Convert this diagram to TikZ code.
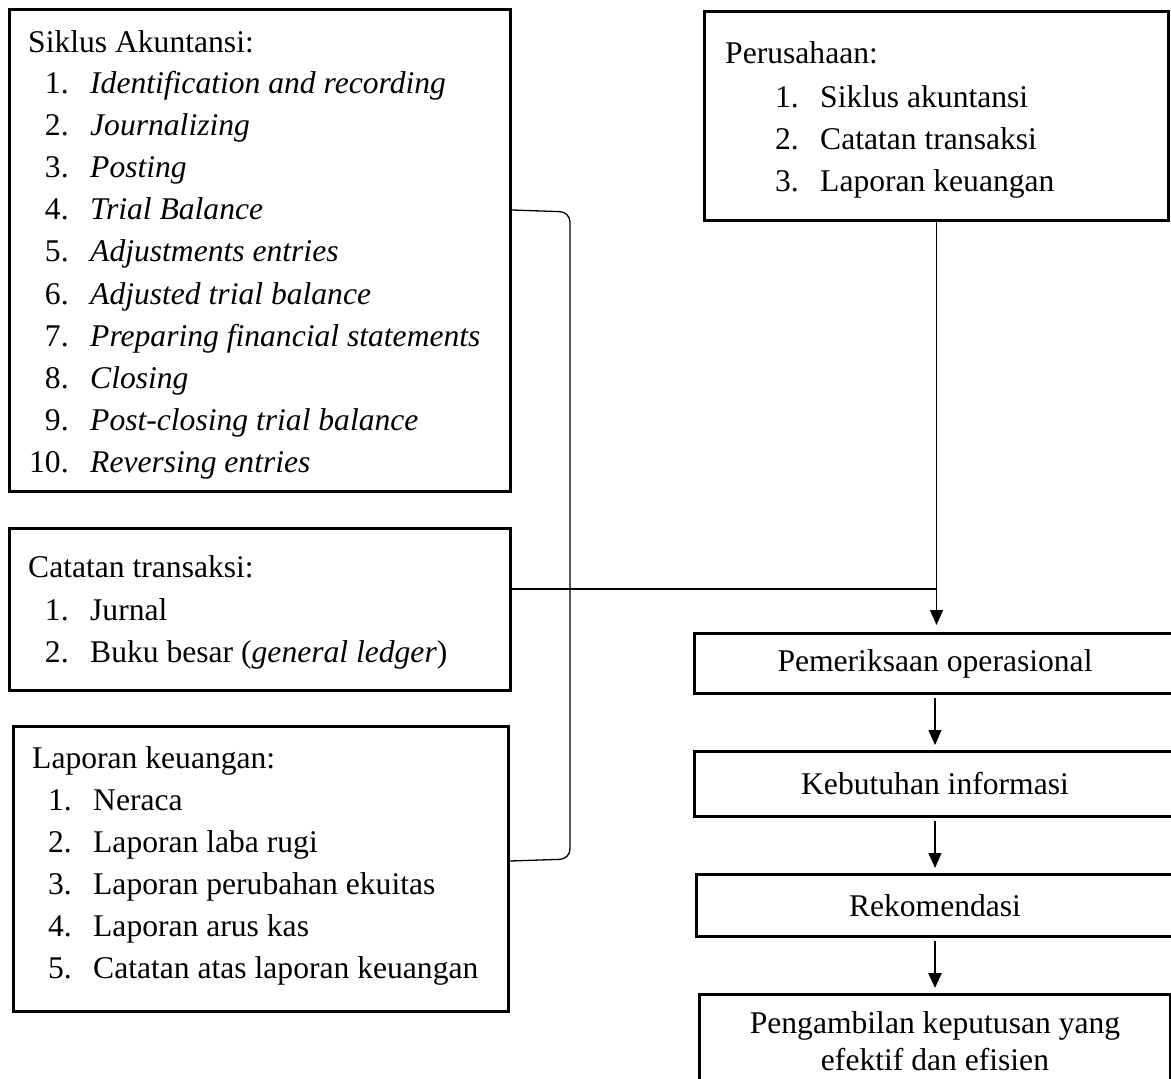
\documentclass[tikz,border=0pt]{standalone}
\usepackage{fontspec}
\setmainfont{Liberation Serif}
\usetikzlibrary{positioning,arrows.meta}

\tikzset{
  box/.style={draw,rectangle,line width=3pt,inner sep=0pt},
  txt/.style={anchor=base west,inner sep=0pt},
  link/.style={line width=1.3pt},
  arr/.style={line width=1.3pt,-{Triangle[width=13pt,length=15pt]},shorten <=3pt,shorten >=5pt},
}

\begin{document}
\begin{tikzpicture}[x=1pt,y=-1pt,node distance=55pt,
  every node/.style={font=\fontsize{31.6pt}{42pt}\selectfont}]
   \useasboundingbox (0,0) rectangle (1171,1079);

   % left column
   \node[box,anchor=north west,minimum width=501pt,minimum height=482pt] (siklus) at (8,8) {};
   \node[box,anchor=north west,minimum width=501pt,minimum height=162pt] (catatan) at (8,527) {};
   \node[box,anchor=north west,minimum width=495pt,minimum height=285pt] (laporan) at (12,725) {};

   \node[txt] (siklus-t) at (28,52) {Siklus Akuntansi:};
   \foreach \t [count=\i] in {Identification and recording,Journalizing,Posting,Trial Balance,
       Adjustments entries,Adjusted trial balance,Preparing financial statements,Closing,
       Post-closing trial balance,Reversing entries}
     \node[txt] (siklus-\i) at (28,{93+42.2*(\i-1)}) {\makebox[40.5pt][r]{\i.}\hspace{21.5pt}\textit{\t}};

   \node[txt] (catatan-t) at (28,577) {Catatan transaksi:};
   \foreach \t [count=\i] in {Jurnal,{Buku besar (\textit{general ledger})}}
     \node[txt] (catatan-\i) at (28,{620+42*(\i-1)}) {\makebox[40.5pt][r]{\i.}\hspace{21.5pt}\t};

   \node[txt] (laporan-t) at (32,768) {Laporan keuangan:};
   \foreach \t [count=\i] in {Neraca,Laporan laba rugi,Laporan perubahan ekuitas,
       Laporan arus kas,Catatan atas laporan keuangan}
     \node[txt] (laporan-\i) at (32,{810+42*(\i-1)}) {\makebox[39.5pt][r]{\i.}\hspace{21.5pt}\t};

   % right column
   \node[box,anchor=north west,minimum width=464pt,minimum height=209pt] (perus) at (703,10) {};
   \node[txt] (perus-t) at (725,63) {Perusahaan:};
   \foreach \t [count=\i] in {Siklus akuntansi,Catatan transaksi,Laporan keuangan}
     \node[txt] (perus-\i) at (725,{107+42*(\i-1)}) {\makebox[73.5pt][r]{\i.}\hspace{21.5pt}\t};

   \node[box,anchor=north,minimum width=481pt,minimum height=60pt] (pemer) at (935,632) {Pemeriksaan operasional};
   \node[box,minimum width=481pt,minimum height=65pt] (kebut) [below=of pemer] {Kebutuhan informasi};
   \node[box,minimum width=477pt,minimum height=62pt] (rekom) [below=of kebut] {Rekomendasi};
   \node[box,minimum width=471pt,inner ysep=17pt,align=center,
         font=\fontsize{31.6pt}{37pt}\selectfont] (ambil) [below=of rekom]
         {Pengambilan keputusan yang\\efektif dan efisien};

   % connectors
   \coordinate (join) at (perus.south |- 0,589);
   \coordinate (br-top) at (570,212);
   \coordinate (br-bot) at (570,859);
   \draw[link,rounded corners=10pt] (siklus.east |- 0,210) -- (br-top) -- (br-bot) -- (laporan.east |- 0,861);
   \draw[link] (catatan.east |- join) -- (join);
   \draw[arr,shorten <=0pt,shorten >=7pt] (perus.south) -- (perus.south |- pemer.north);
   \path[arr]
     (pemer) edge (kebut)
     (kebut) edge (rekom);
   \draw[arr,line width=2.6pt] (rekom) -- (ambil);

\end{tikzpicture}
\end{document}
